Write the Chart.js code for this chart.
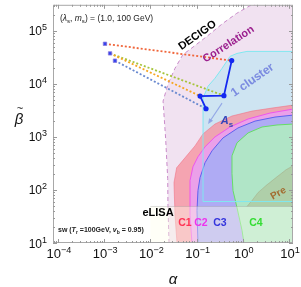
<!DOCTYPE html>
<html>
<head>
<meta charset="utf-8">
<script src="https://cdn.jsdelivr.net/npm/chart.js@4.4.1/dist/chart.umd.min.js"></script>
<style>
  html, body { margin: 0; padding: 0; background: #fff; }
  canvas { display: block; }
</style>
</head>
<body>
<canvas id="gw" width="301" height="287"></canvas>
<script>
// axis limits (log scales)
const X_MIN = 7.8e-5, X_MAX = 12.2, Y_MIN = 10, Y_MAX = 3.1e5;
const xTickExps = [-4, -3, -2, -1, 0, 1];
const yTickExps = [1, 2, 3, 4, 5];

// region boundaries as [alpha, beta]
const decigoEdge = [[0.0253, 10], [0.024, 51], [0.0237, 163], [0.0214, 916], [0.0188, 4730],
  [0.024, 9840], [0.034, 19600], [0.0508, 36000], [0.0719, 44700], [0.1656, 78200],
  [0.372, 139000], [0.738, 214000], [1.43, 298000], [1.84, Y_MAX]];
const clusterEdge = [[X_MAX, 60.5], [0.1377, 60.5], [0.1377, 5380], [0.1767, 9040], [0.25, 12800],
  [0.355, 19600], [0.528, 33000], [0.748, 37500], [1.23, 41000], [X_MAX, 41000]];
const c1Edge = [[0.0377, 10], [0.0341, 33], [0.0324, 137], [0.037, 262], [0.0561, 404], [0.0923, 678],
  [0.1377, 1140], [0.25, 1750], [0.583, 2480], [1.58, 3070], [4.29, 3500], [X_MAX, 3980]];
const c2Edge = [[0.0794, 10], [0.072, 33], [0.072, 150], [0.0835, 274], [0.107, 422], [0.152, 650],
  [0.25, 1000], [0.528, 1540], [1.3, 2180], [3.88, 2820], [X_MAX, 3350]];
const c3Edge = [[0.107, 10], [0.102, 41], [0.107, 97], [0.1186, 171], [0.152, 326], [0.2155, 547],
  [0.372, 957], [0.787, 1476], [1.84, 1990], [4.98, 2370], [X_MAX, 2580]];
const c4Edge = [[1.06, 10], [0.962, 17.3], [0.748, 46.7], [0.614, 97], [0.583, 203], [0.583, 440],
  [0.748, 773], [1.3, 1190], [2.61, 1540], [5.5, 1680], [X_MAX, 1750]];
const preEdge = [[1.23, 48.8], [1.58, 63], [2.13, 89], [3.18, 121], [5.23, 171], [8.6, 240], [X_MAX, 286]];
const elisaTop = 48.8, elisaLeft = 0.01;

// benchmark points and their starting points
const benchAlpha = [0.575, 0.39, 0.119, 0.16];
const benchBeta = [27500, 6000, 5900, 3400];
const startAlpha = [0.00104, 0.00134, 0.00171];
const startBeta = [57000, 37600, 27400];
const links = [[0, 0, '#f0653a'], [1, 1, '#a6c43a'], [1, 2, '#f5a623'], [2, 3, '#6a8ad0']];

const FONT = '"Liberation Sans", Arial, sans-serif';
const pts = arr => arr.map(p => ({ x: p[0], y: p[1] }));

// a filled area (no outline) and its drawn edge, as two datasets
function area(poly, fillCol) {
  return { data: pts(poly), fill: 'shape', backgroundColor: fillCol, borderWidth: 0, pointRadius: 0, tension: 0 };
}
function edge(line, col, width, dash) {
  return { data: pts(line), fill: false, borderColor: col, borderWidth: width, borderDash: dash || [], pointRadius: 0, tension: 0 };
}

// bottom to top
const layers = [
  area(decigoEdge.concat([[X_MAX, Y_MAX], [X_MAX, Y_MIN]]), '#f1e2f1'),
  edge(decigoEdge, '#c98bc9', 1, [4, 3]),
  area(clusterEdge, 'rgba(200,228,242,0.85)'),
  area(c1Edge.concat([[X_MAX, Y_MIN]]), 'rgba(245,150,162,0.82)'),
  edge(c1Edge, 'rgba(240,110,130,0.7)', 0.8),
  area(c2Edge.concat([[X_MAX, Y_MIN]]), 'rgba(234,160,240,0.9)'),
  edge(c2Edge, '#ee55ee', 1),
  area(c3Edge.concat([[X_MAX, Y_MIN]]), 'rgba(172,172,244,0.95)'),
  edge(c3Edge, '#6060ee', 1),
  area(c4Edge.concat([[X_MAX, Y_MIN]]), 'rgba(176,232,196,0.95)'),
  edge(c4Edge, '#66dd66', 1),
  area(preEdge.concat([[X_MAX, elisaTop]]), 'rgba(175,165,115,0.35)'),
  edge(preEdge, 'rgba(160,150,110,0.5)', 0.7),
  edge(clusterEdge, '#80e8f0', 1),
  area([[elisaLeft, elisaTop], [X_MAX, elisaTop], [X_MAX, Y_MIN], [elisaLeft, Y_MIN]], 'rgba(255,255,235,0.4)'),
  edge([[elisaLeft, elisaTop], [X_MAX, elisaTop]], 'rgba(150,150,150,0.45)', 0.7)
];
links.forEach(l => layers.push({
  data: [{ x: startAlpha[l[0]], y: startBeta[l[0]] }, { x: benchAlpha[l[1]], y: benchBeta[l[1]] }],
  borderColor: l[2], borderWidth: 1.8, borderDash: [2, 2], pointRadius: 0, fill: false
}));
layers.push({
  data: benchAlpha.map((a, i) => ({ x: a, y: benchBeta[i] })),
  borderColor: '#1428f0', borderWidth: 1.8, pointRadius: 2.6, pointBackgroundColor: '#1428f0',
  pointBorderWidth: 0, fill: false
});
layers.push({
  data: startAlpha.map((a, i) => ({ x: a, y: startBeta[i] })),
  showLine: false, pointStyle: 'rect', pointRadius: 2.4, pointBackgroundColor: '#3344ee',
  pointBorderColor: '#8a78dd', pointBorderWidth: 0.8, fill: false
});
layers.forEach((d, i) => { d.order = layers.length - i; });

// text on the plot, anchored in data coordinates
const notes = [
  { parts: ['DECIGO'], a: 0.102, b: 85000, rot: -35, size: 11, w: 'bold', c: '#000' },
  { parts: ['Correlation'], a: 0.479, b: 57800, rot: -33, size: 11, w: 'bold', c: '#9b1f8e' },
  { parts: ['1 cluster'], a: 1.58, b: 12200, rot: -35, size: 12, w: 'bold', c: '#7a8ae0' },
  { parts: [{ t: 'A', it: true }, { t: 's', sub: true }], a: 0.455, b: 2080, rot: 0, size: 11, w: 'bold', c: '#3344bb' },
  { parts: ['eLISA'], a: 0.0146, b: 37.6, rot: 0, size: 11, w: 'bold', c: '#000' },
  { parts: ['C1'], a: 0.056, b: 24.4, rot: 0, size: 10.5, w: 'bold', c: '#ff3355' },
  { parts: ['C2'], a: 0.1245, b: 24.4, rot: 0, size: 10.5, w: 'bold', c: '#ee33ee' },
  { parts: ['C3'], a: 0.32, b: 24.4, rot: 0, size: 10.5, w: 'bold', c: '#3434dd' },
  { parts: ['C4'], a: 1.93, b: 24.4, rot: 0, size: 10.5, w: 'bold', c: '#33dd33' },
  { parts: ['Pre'], a: 5.78, b: 89, rot: -30, size: 10, w: 'bold', c: '#a36b30' }
];
const arrowFrom = [0.355, 4330], arrowTo = [0.177, 1750];

function richText(ctx, parts, x, y, size, weight, color, align) {
  const segs = parts.map(p => {
    const s = typeof p === 'string' ? { t: p } : p;
    const sz = s.sub || s.sup ? size * (s.scale || 0.72) : size;
    const font = (s.it ? 'italic ' : '') + (weight || 'normal') + ' ' + sz + 'px ' + FONT;
    ctx.font = font;
    return { t: s.t, font, w: ctx.measureText(s.t).width, dy: s.sub ? size * 0.28 : (s.sup ? -(s.raise || size * 0.42) : 0) };
  });
  const total = segs.reduce((a, s) => a + s.w, 0);
  let cx = align === 'center' ? x - total / 2 : (align === 'right' ? x - total : x);
  ctx.fillStyle = color;
  ctx.textAlign = 'left';
  ctx.textBaseline = 'alphabetic';
  segs.forEach(s => { ctx.font = s.font; ctx.fillText(s.t, cx, y + s.dy); cx += s.w; });
}

const decor = {
  id: 'decor',
  afterDraw(chart) {
    const { ctx, chartArea: ca, scales: { x, y } } = chart;
    ctx.save();
    // arrow towards A_s
    const ax0 = x.getPixelForValue(arrowFrom[0]), ay0 = y.getPixelForValue(arrowFrom[1]);
    const ax1 = x.getPixelForValue(arrowTo[0]), ay1 = y.getPixelForValue(arrowTo[1]);
    const ang = Math.atan2(ay1 - ay0, ax1 - ax0);
    ctx.strokeStyle = 'rgba(140,160,228,0.9)';
    ctx.fillStyle = 'rgba(140,160,228,0.9)';
    ctx.lineWidth = 1.1;
    ctx.beginPath(); ctx.moveTo(ax0, ay0); ctx.lineTo(ax1 - 4 * Math.cos(ang), ay1 - 4 * Math.sin(ang)); ctx.stroke();
    ctx.beginPath();
    ctx.moveTo(ax1, ay1);
    ctx.lineTo(ax1 - 6 * Math.cos(ang - 0.4), ay1 - 6 * Math.sin(ang - 0.4));
    ctx.lineTo(ax1 - 6 * Math.cos(ang + 0.4), ay1 - 6 * Math.sin(ang + 0.4));
    ctx.closePath(); ctx.fill();

    // labels inside the plot
    notes.forEach(n => {
      ctx.save();
      ctx.translate(x.getPixelForValue(n.a), y.getPixelForValue(n.b));
      ctx.rotate(n.rot * Math.PI / 180);
      richText(ctx, n.parts, 0, n.size * 0.36, n.size, n.w, n.c, 'center');
      ctx.restore();
    });
    richText(ctx, ['(', { t: 'λ', it: true }, { t: 's', sub: true }, ', ', { t: 'm', it: true }, { t: 's', sub: true },
      ') = (1.0, 100 GeV)'], ca.left + 7, ca.top + 16, 8.5, 'normal', '#222', 'left');
    richText(ctx, ['sw (', { t: 'T', it: true }, { t: 'r', sub: true }, ' =100GeV, ', { t: 'v', it: true },
      { t: 'b', sub: true }, ' = 0.95)'], ca.left + 5, ca.bottom - 11, 7, 'bold', '#222', 'left');

    // frame
    ctx.strokeStyle = '#a8a8a8';
    ctx.lineWidth = 1;
    ctx.strokeRect(ca.left + 0.5, ca.top + 0.5, ca.right - ca.left - 1, ca.bottom - ca.top - 1);
    // inward ticks on all sides
    ctx.strokeStyle = '#999';
    ctx.beginPath();
    for (let e = -5; e <= 2; e++) {
      for (let m = 1; m <= 9; m++) {
        const v = m * Math.pow(10, e);
        if (v < X_MIN || v > X_MAX) continue;
        const px = Math.round(x.getPixelForValue(v)) + 0.5, len = m === 1 ? 4 : 2;
        ctx.moveTo(px, ca.bottom); ctx.lineTo(px, ca.bottom - len);
        ctx.moveTo(px, ca.top); ctx.lineTo(px, ca.top + len);
      }
    }
    for (let e = 0; e <= 6; e++) {
      for (let m = 1; m <= 9; m++) {
        const v = m * Math.pow(10, e);
        if (v < Y_MIN || v > Y_MAX) continue;
        const py = Math.round(y.getPixelForValue(v)) + 0.5, len = m === 1 ? 4 : 2;
        ctx.moveTo(ca.left, py); ctx.lineTo(ca.left + len, py);
        ctx.moveTo(ca.right, py); ctx.lineTo(ca.right - len, py);
      }
    }
    ctx.stroke();

    // tick labels
    xTickExps.forEach(e => {
      const px = x.getPixelForValue(Math.pow(10, e));
      richText(ctx, ['10', { t: String(e).replace('-', '\u2212'), sup: true, scale: 0.7, raise: 5.5 }],
        px + 1, ca.bottom + 15, 13, 'normal', '#111', 'center');
    });
    yTickExps.forEach(e => {
      const py = y.getPixelForValue(Math.pow(10, e));
      richText(ctx, ['10', { t: String(e), sup: true, scale: 0.75, raise: 5 }],
        ca.left - 6, py + 4.5, 12, 'normal', '#111', 'right');
    });

    // axis titles
    ctx.fillStyle = '#111';
    ctx.textAlign = 'center';
    ctx.font = 'italic 15px ' + FONT;
    ctx.fillText('α', (ca.left + ca.right) / 2, 284);
    ctx.fillText('β', 19, 124);
    ctx.font = '11px ' + FONT;
    ctx.fillText('~', 20, 112);
    ctx.restore();
  }
};

new Chart(document.getElementById('gw'), {
  type: 'line',
  data: { datasets: layers },
  options: {
    responsive: false,
    animation: false,
    devicePixelRatio: 1,
    events: [],
    layout: { padding: { left: 53, right: 8, top: 3, bottom: 44 } },
    plugins: { legend: { display: false }, tooltip: { enabled: false } },
    scales: {
      x: { type: 'logarithmic', min: X_MIN, max: X_MAX, display: false },
      y: { type: 'logarithmic', min: Y_MIN, max: Y_MAX, display: false }
    }
  },
  plugins: [decor]
});
</script>
</body>
</html>
